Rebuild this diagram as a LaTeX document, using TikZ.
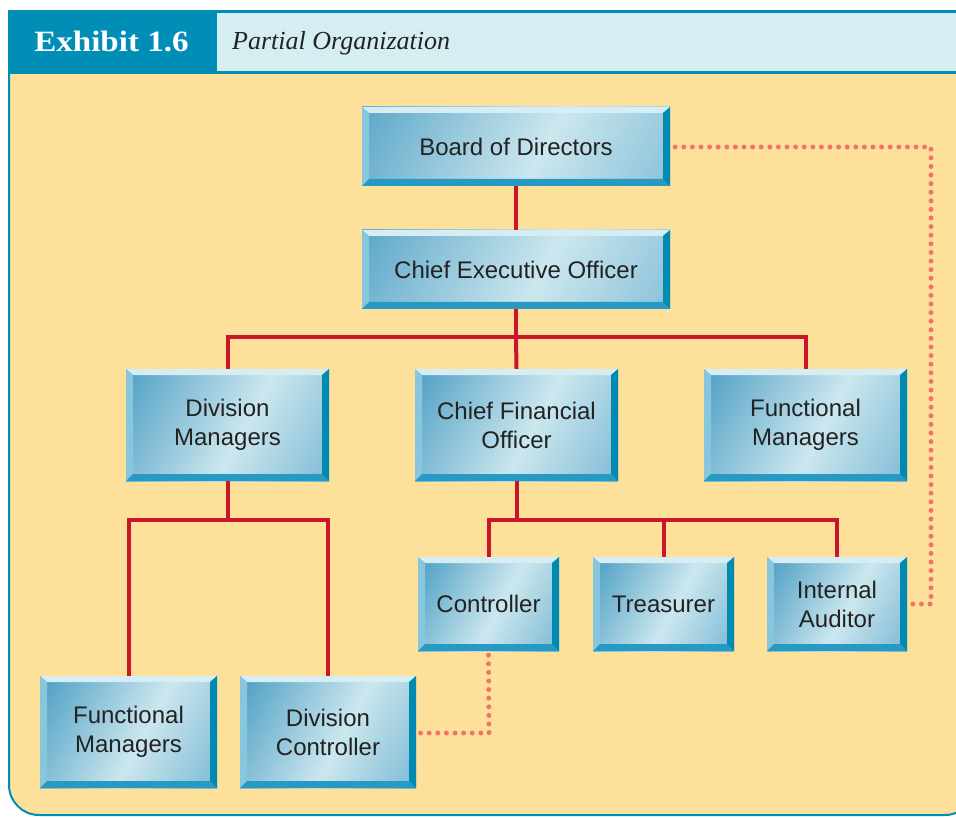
\documentclass[tikz,border=0pt]{standalone}
\usepackage{fontspec}
\usetikzlibrary{calc}
\setmainfont{Liberation Serif}
\newfontfamily\boxfont{Liberation Sans}
\newfontfamily\exhfont[FakeStretch=1.12]{Liberation Serif}
\definecolor{bgorange}{RGB}{253,225,155}
\definecolor{hdteal}{RGB}{0,142,182}
\definecolor{hdcyan}{RGB}{213,238,242}
\definecolor{bxleft}{RGB}{80,160,197}
\definecolor{bxmid}{RGB}{204,231,238}
\definecolor{bxright}{RGB}{116,181,210}
\definecolor{bvtop}{RGB}{214,238,243}
\definecolor{bvleft}{RGB}{136,198,222}
\definecolor{bvright}{RGB}{0,138,178}
\definecolor{bvbottom}{RGB}{38,154,195}
\definecolor{orgred}{RGB}{200,22,42}
\definecolor{dotred}{RGB}{238,118,98}
\definecolor{txt}{RGB}{34,34,34}
\pgfdeclarehorizontalshading{orgshade}{100bp}{color(0bp)=(bxleft); color(22bp)=(bxleft); color(54bp)=(bxmid); color(82bp)=(bxright); color(100bp)=(bxright)}
\tikzset{
  orgbox/.style={
    rectangle, inner sep=0pt, align=center, text=txt,
    font=\boxfont\fontsize{24}{29}\selectfont,
    path picture={
      \path (path picture bounding box.south west) coordinate (sw)
            (path picture bounding box.north east) coordinate (ne)
            (path picture bounding box.north west) coordinate (nw)
            (path picture bounding box.south east) coordinate (se)
            ($(sw)!.5!(ne)$) coordinate (cc);
      \fill[bxmid] (sw) rectangle (ne);
      \shade[shading=orgshade, shading angle=-28]
        let \p1=(sw), \p2=(ne), \p3=(cc), \n1={(\x2-\x1)/2} in
        (\x3-\n1,\y3-\n1) rectangle (\x3+\n1,\y3+\n1);
      \fill[bvtop] (nw) -- (ne) -- ([xshift=-7pt,yshift=-6pt]ne) -- ([xshift=7pt,yshift=-6pt]nw) -- cycle;
      \fill[bvleft] (nw) -- (sw) -- ([xshift=7pt,yshift=7pt]sw) -- ([xshift=7pt,yshift=-6pt]nw) -- cycle;
      \fill[bvbottom] (sw) -- (se) -- ([xshift=-7pt,yshift=7pt]se) -- ([xshift=7pt,yshift=7pt]sw) -- cycle;
      \fill[bvright] (ne) -- (se) -- ([xshift=-7pt,yshift=7pt]se) -- ([xshift=-7pt,yshift=-6pt]ne) -- cycle;
    }},
  tree/.style={draw=orgred, line width=4pt},
  dotline/.style={draw=dotred, line width=5pt, line cap=round, dash pattern=on 0pt off 8.6pt},
}
\begin{document}
\begin{tikzpicture}[x=1pt,y=-1pt]
\useasboundingbox (0,0) rectangle (956,818);
% frame
\filldraw[fill=bgorange, draw=hdteal, line width=2pt]
  (9,60) {[rounded corners=30pt] -- (9,815) -- (975,815)} -- (975,60) -- cycle;
\fill[hdteal] (8,10) rectangle (975,74);
\fill[hdcyan] (217,13) rectangle (975,71);
\node[anchor=base, text=white, font=\exhfont\bfseries\fontsize{29.5}{34}\selectfont] (exh) at (111.5,52) {Exhibit 1.6};
\node[anchor=base west, inner sep=0pt, text=txt, font=\itshape\fontsize{26}{30}\selectfont] (ttl) at (232,50) {Partial Organization};
% boxes
\node[orgbox, minimum width=308pt, minimum height=79pt] (bod) at (516,146.5) {Board of Directors};
\node[orgbox, minimum width=308pt, minimum height=79pt] (ceo) at (516,269.5) {Chief Executive Officer};
\node[orgbox, minimum width=203pt, minimum height=112pt] (dm) at (227.5,425) {Division\\Managers};
\node[orgbox, minimum width=203pt, minimum height=112pt] (cfo) at (516.5,425) {Chief Financial\\Officer};
\node[orgbox, minimum width=203pt, minimum height=112pt] (fmt) at (805.5,425) {Functional\\Managers};
\node[orgbox, minimum width=141pt, minimum height=94pt] (ctl) at (488.5,604) {Controller};
\node[orgbox, minimum width=141pt, minimum height=94pt] (trs) at (663.5,604) {Treasurer};
\node[orgbox, minimum width=140pt, minimum height=94pt] (ia) at (837,604) {Internal\\Auditor};
\node[orgbox, minimum width=177pt, minimum height=112pt] (fmb) at (128.5,732) {Functional\\Managers};
\node[orgbox, minimum width=176pt, minimum height=112pt] (dc) at (328,732) {Division\\Controller};
% tree lines
\coordinate (b1) at (516,337);
\coordinate (b2) at (227.5,520);
\coordinate (b3) at (516.5,520);
\draw[tree] (bod.south) -- (ceo.north);
\draw[tree] (ceo.south) -- (b1);
\draw[tree] (dm.north) |- (b1) -| (fmt.north);
\draw[tree] (b1) -- (cfo.north);
\draw[tree] (dm.south) -- (b2);
\draw[tree] (fmb.north) |- (b2) -| (dc.north);
\draw[tree] (cfo.south) -- (b3);
\draw[tree] (ctl.north) |- (b3) -| (ia.north);
\draw[tree] (b3 -| trs.north) -- (trs.north);
% dotted lines
\coordinate (d1) at (931,147);
\draw[dotline] ([xshift=5pt]bod.east |- d1) -- (d1) |- ([xshift=3pt]ia.east);
\coordinate (d2) at (489,733);
\draw[dotline] ([yshift=-4pt]ctl.south) -- (d2) -- ([xshift=3pt]dc.east |- d2);
\end{tikzpicture}
\end{document}
